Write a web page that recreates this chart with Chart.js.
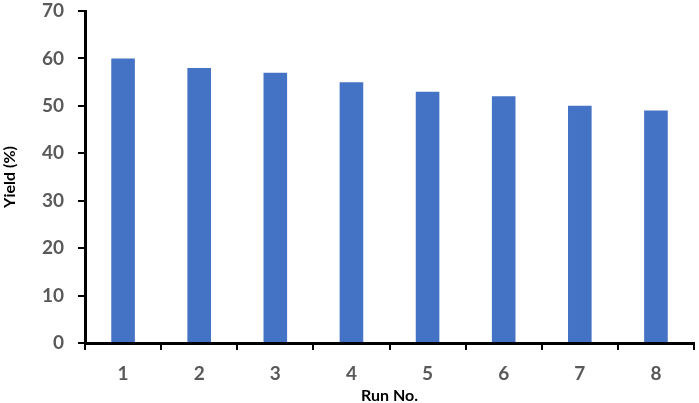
<!DOCTYPE html>
<html>
<head>
<meta charset="utf-8">
<script src="https://cdn.jsdelivr.net/npm/chart.js@4/dist/chart.umd.min.js"></script>
<style>
    html, body { margin: 0; padding: 0; background: #fff; }
    #wrap { width: 699px; height: 403px; }
</style>
</head>
<body>
<div id="wrap"><canvas id="yieldChart"></canvas></div>
<script>
const runLabels = ['1', '2', '3', '4', '5', '6', '7', '8'];
const yieldValues = [60, 58, 57, 55, 53, 52, 50, 49];
const yMin = 0;
const yMax = 70;
const yStep = 10;

const tickFont = { family: 'Lato, Open Sans, sans-serif', size: 19, weight: 'bold' };
const titleFont = { family: 'Lato, Open Sans, sans-serif', size: 16, weight: 'bold' };

const ctx = document.getElementById('yieldChart').getContext('2d');
const myChart = new Chart(ctx, {
    type: 'bar',
    data: {
        labels: runLabels,
        datasets: [{
            data: yieldValues,
            backgroundColor: '#4472C4',
            borderWidth: 0,
            categoryPercentage: 1,
            barPercentage: 0.31
        }]
    },
    options: {
        responsive: true,
        maintainAspectRatio: false,
        animation: false,
        layout: { padding: { top: 11, right: 5, left: 0, bottom: 0 } },
        plugins: { legend: { display: false }, tooltip: { enabled: false } },
        scales: {
            x: {
                grid: { display: true, offset: true, drawOnChartArea: false, drawTicks: true, tickLength: 7, color: '#000', lineWidth: 2 },
                border: { display: true, color: '#000', width: 3 },
                ticks: { color: '#595959', font: tickFont, padding: 12 },
                title: { display: true, text: 'Run No.', color: '#000', font: titleFont, padding: { top: 0, bottom: -2 } },
                afterFit: (scale) => { scale.height = 60; scale.paddingRight = 0; }
            },
            y: {
                min: yMin,
                max: yMax,
                grid: { drawOnChartArea: false, drawTicks: true, tickLength: 7, color: '#000', lineWidth: 2 },
                border: { display: true, color: '#000', width: 3 },
                ticks: { stepSize: yStep, color: '#595959', font: tickFont, padding: 14 },
                title: { display: true, text: 'Yield (%)', color: '#000', font: titleFont, padding: { top: 0, bottom: 0 } },
                afterFit: (scale) => { scale.width = 85; scale.paddingTop = 0; }
            }
        }
    }
});
</script>
</body>
</html>
